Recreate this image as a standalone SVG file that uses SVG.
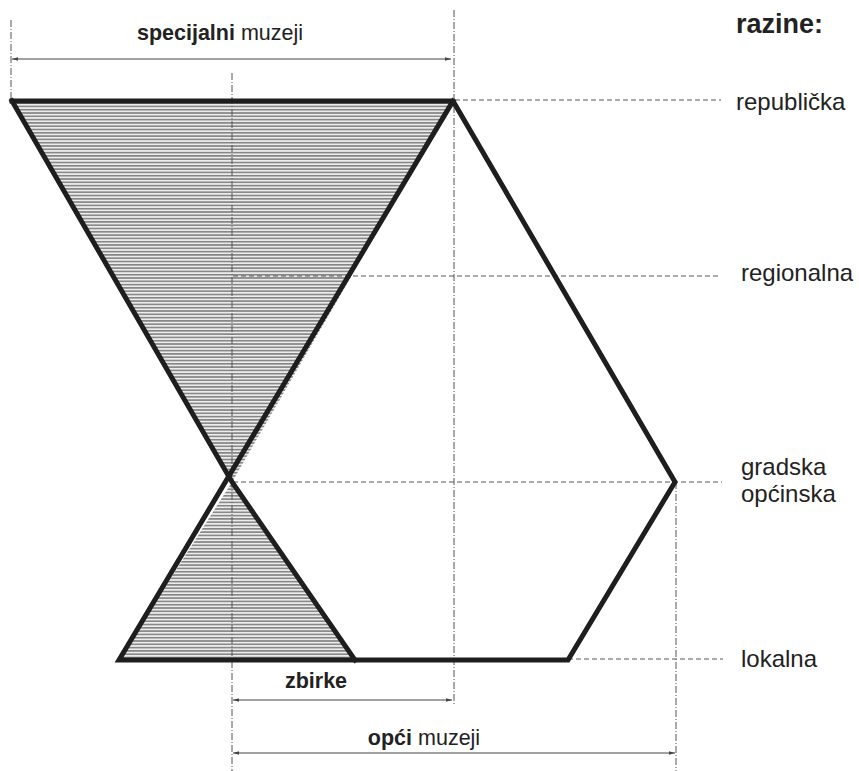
<svg xmlns="http://www.w3.org/2000/svg" width="859" height="771" viewBox="0 0 859 771">
<style>
text{font-family:"Liberation Sans",Arial,sans-serif;fill:#222}
.b{font-weight:bold}
.lbl{font-size:24px}
.dim{font-size:21.5px}
.thick{fill:none;stroke:#1e1e1e;stroke-width:5;stroke-linejoin:miter;stroke-linecap:square}
.dash{fill:none;stroke:#555;stroke-width:1;stroke-dasharray:5 3}
.dd{fill:none;stroke:#555;stroke-width:1;stroke-dasharray:7 2 1 2}
.arr{fill:none;stroke:#444;stroke-width:1.2;marker-start:url(#ah);marker-end:url(#ah)}
</style>
<defs>
<pattern id="hatch" patternUnits="userSpaceOnUse" width="8" height="3.3">
<rect width="8" height="3.3" fill="#ececec"/>
<rect y="0" width="8" height="1.6" fill="#858585"/>
</pattern>
<marker id="ah" viewBox="0 0 10 10" refX="10" refY="5" markerWidth="6" markerHeight="6" orient="auto-start-reverse" markerUnits="userSpaceOnUse">
<path d="M0,2 L10,5 L0,8 z" fill="#444"/>
</marker>
</defs>
<rect width="859" height="771" fill="#fff"/>

<g id="shading">
<polygon points="12,101 453,101 232,482" fill="url(#hatch)"/>
<polygon points="232,482 355,660 119,660" fill="url(#hatch)"/>
</g>

<g id="connectors">
<line class="dd" x1="11" y1="20" x2="11" y2="100"/>
<line class="dd" x1="454" y1="10" x2="454" y2="706"/>
<line class="dd" x1="232" y1="73" x2="232" y2="771"/>
<line class="dd" x1="676" y1="482" x2="676" y2="771"/>
<line class="dash" x1="455" y1="100" x2="721" y2="100"/>
<line class="dash" x1="233" y1="276" x2="720" y2="276"/>
<line class="dash" x1="233" y1="482" x2="722" y2="482"/>
<line class="dash" x1="568" y1="659" x2="723" y2="659"/>
<line class="arr" x1="12" y1="59" x2="451" y2="59"/>
<line class="arr" x1="233" y1="700" x2="452" y2="700"/>
<line class="arr" x1="233" y1="753" x2="675" y2="753"/>
</g>

<g id="outline">
<path class="thick" d="M12,101 L453,101 L675,482 L568,660 L119,660 L453,101"/>
<path class="thick" d="M12,101 L232,482 L355,660"/>
</g>

<g id="labels">
<text class="dim" x="220" y="40" text-anchor="middle"><tspan class="b">specijalni</tspan> muzeji</text>
<text class="b" x="736" y="33" font-size="27">razine:</text>
<text class="lbl" x="736" y="110">republička</text>
<text class="lbl" x="741" y="281">regionalna</text>
<text class="lbl" x="741" y="475">gradska</text>
<text class="lbl" x="741" y="502">općinska</text>
<text class="lbl" x="741" y="667">lokalna</text>
<text class="dim b" x="316" y="688" text-anchor="middle">zbirke</text>
<text class="dim" x="424" y="745" text-anchor="middle"><tspan class="b">opći</tspan> muzeji</text>
</g>
</svg>
